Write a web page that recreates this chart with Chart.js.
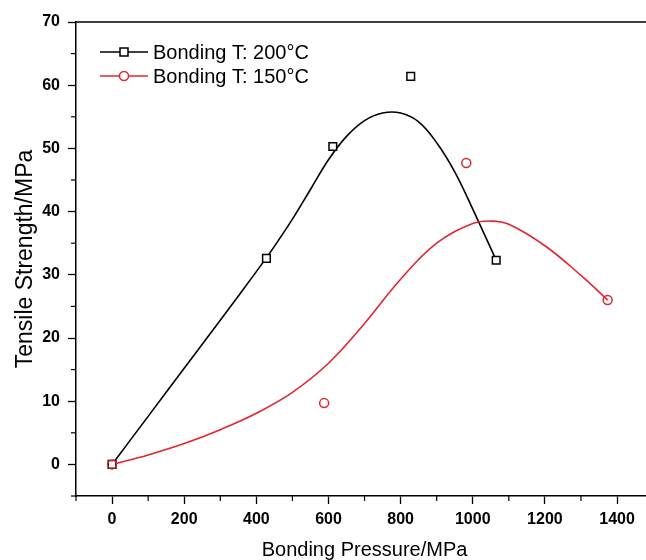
<!DOCTYPE html>
<html>
<head>
<meta charset="utf-8">
<script src="https://cdn.jsdelivr.net/npm/chart.js@4.4.1/dist/chart.umd.min.js"></script>
<style>
body{margin:0;background:#fff;overflow:hidden}
#wrap{width:660px;height:560px}
</style>
</head>
<body>
<div id="wrap"><canvas id="myChart" width="660" height="560"></canvas></div>
<script>
// 측정값
const seriesNames = ["Bonding T: 200°C", "Bonding T: 150°C"];
const pressure200 = [0, 428, 612, 828, 1065];
const strength200 = [0, 32.6, 50.3, 61.4, 32.3];
const pressure150 = [0, 588, 982, 1374];
const strength150 = [0, 9.7, 47.7, 26.0];

// 피팅 곡선
const fitX200 = [0, 100, 200, 300, 400, 450, 500, 550, 600, 650, 700, 750, 800, 850, 900, 950, 1000, 1065];
const fitY200 = [0, 7.6, 15.2, 22.8, 30.5, 34.5, 38.8, 43.5, 48.2, 51.9, 54.4, 55.6, 55.6, 54.2, 50.9, 46.3, 40.4, 32.3];
const fitX150 = [0, 100, 200, 300, 400, 500, 600, 700, 800, 900, 1000, 1050, 1100, 1200, 1300, 1374];
const fitY150 = [0, 1.5, 3.3, 5.5, 8.1, 11.4, 16.0, 22.3, 29.3, 35.0, 38.1, 38.5, 38.0, 34.6, 29.9, 26.0];

// 축 눈금 라벨
const xTickLabels = [0, 200, 400, 600, 800, 1000, 1200, 1400];
const yTickLabels = [0, 10, 20, 30, 40, 50, 60, 70];

const black = '#000';
const red = '#e0262f';

const toXY = (xs, ys) => xs.map((x, i) => ({x: x, y: ys[i]}));

// 보조 눈금, 위쪽 테두리, 범례
const extras = {
	id: 'extras',
	afterDraw(chart) {
		const ctx = chart.ctx;
		const area = chart.chartArea;
		const xs = chart.scales.x, ys = chart.scales.y;
		ctx.save();
		ctx.strokeStyle = black;
		ctx.lineWidth = 1.5;
		// top frame
		ctx.beginPath();
		ctx.moveTo(area.left, area.top);
		ctx.lineTo(area.right, area.top);
		ctx.stroke();
		// minor ticks
		ctx.lineWidth = 1.2;
		xs.ticks.forEach(t => {
			if (xTickLabels.includes(t.value)) return;
			const px = xs.getPixelForValue(t.value);
			ctx.beginPath();
			ctx.moveTo(px, area.bottom);
			ctx.lineTo(px, area.bottom + 5);
			ctx.stroke();
		});
		ys.ticks.forEach(t => {
			if (yTickLabels.includes(t.value)) return;
			const py = ys.getPixelForValue(t.value);
			ctx.beginPath();
			ctx.moveTo(area.left, py);
			ctx.lineTo(area.left - 5, py);
			ctx.stroke();
		});
		// legend
		const styles = [{color: black, shape: 'rect'}, {color: red, shape: 'circle'}];
		ctx.font = '20px "Liberation Sans", Arial, sans-serif';
		ctx.textBaseline = 'middle';
		ctx.textAlign = 'left';
		seriesNames.forEach((name, i) => {
			const lx = area.left + 24;
			const ly = area.top + 30 + i * 24;
			const st = styles[i];
			ctx.strokeStyle = st.color;
			ctx.lineWidth = 1.6;
			ctx.beginPath();
			ctx.moveTo(lx, ly);
			ctx.lineTo(lx + 48, ly);
			ctx.stroke();
			ctx.fillStyle = '#fff';
			ctx.lineWidth = 1.5;
			ctx.beginPath();
			if (st.shape === 'rect') {
				ctx.rect(lx + 20, ly - 4, 8, 8);
			} else {
				ctx.arc(lx + 24, ly, 4.5, 0, Math.PI * 2);
			}
			ctx.fill();
			ctx.stroke();
			ctx.fillStyle = black;
			ctx.fillText(name, lx + 53, ly + 1);
		});
		ctx.restore();
	}
};

const ctx = document.getElementById('myChart').getContext('2d');
const myChart = new Chart(ctx, {
	type: 'scatter',
	data: {
		datasets: [{
			label: seriesNames[1],
			data: toXY(pressure150, strength150),
			showLine: false,
			pointStyle: 'circle',
			pointRadius: 4.5,
			pointBorderWidth: 1.5,
			pointBorderColor: red,
			pointBackgroundColor: 'rgba(255,255,255,0)'
		}, {
			label: seriesNames[0],
			data: toXY(pressure200, strength200),
			showLine: false,
			pointStyle: 'rect',
			pointRadius: 5.4,
			pointBorderWidth: 1.5,
			pointBorderColor: black,
			pointBackgroundColor: '#fff'
		}, {
			label: 'fit150',
			data: toXY(fitX150, fitY150),
			showLine: true,
			borderColor: red,
			borderWidth: 1.6,
			pointRadius: 0,
			tension: 0.4
		}, {
			label: 'fit200',
			data: toXY(fitX200, fitY200),
			showLine: true,
			borderColor: black,
			borderWidth: 1.6,
			pointRadius: 0,
			tension: 0.4
		}]
	},
	options: {
		responsive: false,
		animation: false,
		layout: {padding: {left: 0, top: 22, right: 3, bottom: 0}},
		plugins: {
			legend: {display: false},
			tooltip: {enabled: false}
		},
		scales: {
			x: {
				type: 'linear',
				min: -100,
				max: 1500,
				afterFit: s => { s.height = 64; },
				border: {display: true, color: black, width: 1.5},
				grid: {
					drawOnChartArea: false,
					drawTicks: true,
					tickLength: 8,
					tickWidth: 1.3,
					tickColor: c => (c.tick && !xTickLabels.includes(c.tick.value)) ? 'rgba(0,0,0,0)' : black
				},
				ticks: {
					stepSize: 100,
					padding: 6,
					color: black,
					maxRotation: 0,
					autoSkip: false,
					font: {family: '"Liberation Sans", Arial, sans-serif', size: 16, weight: 'bold'},
					callback: v => xTickLabels.includes(v) ? String(v) : ''
				},
				title: {
					display: true,
					text: 'Bonding Pressure/MPa',
					color: black,
					padding: {top: 0, bottom: 0},
					font: {family: '"Liberation Sans", Arial, sans-serif', size: 20, lineHeight: 1}
				}
			},
			y: {
				type: 'linear',
				min: -5,
				max: 70,
				afterFit: s => { s.width = 76; },
				border: {display: true, color: black, width: 1.5},
				grid: {
					drawOnChartArea: false,
					drawTicks: true,
					tickLength: 8,
					tickWidth: 1.3,
					tickColor: c => (c.tick && !yTickLabels.includes(c.tick.value)) ? 'rgba(0,0,0,0)' : black
				},
				ticks: {
					stepSize: 5,
					padding: 8,
					color: black,
					autoSkip: false,
					font: {family: '"Liberation Sans", Arial, sans-serif', size: 16, weight: 'bold'},
					callback: v => yTickLabels.includes(v) ? String(v) : ''
				},
				title: {
					display: true,
					text: 'Tensile Strength/MPa',
					color: black,
					padding: {top: 12, bottom: 0},
					font: {family: '"Liberation Sans", Arial, sans-serif', size: 23}
				}
			}
		}
	},
	plugins: [extras]
});
</script>
</body>
</html>
